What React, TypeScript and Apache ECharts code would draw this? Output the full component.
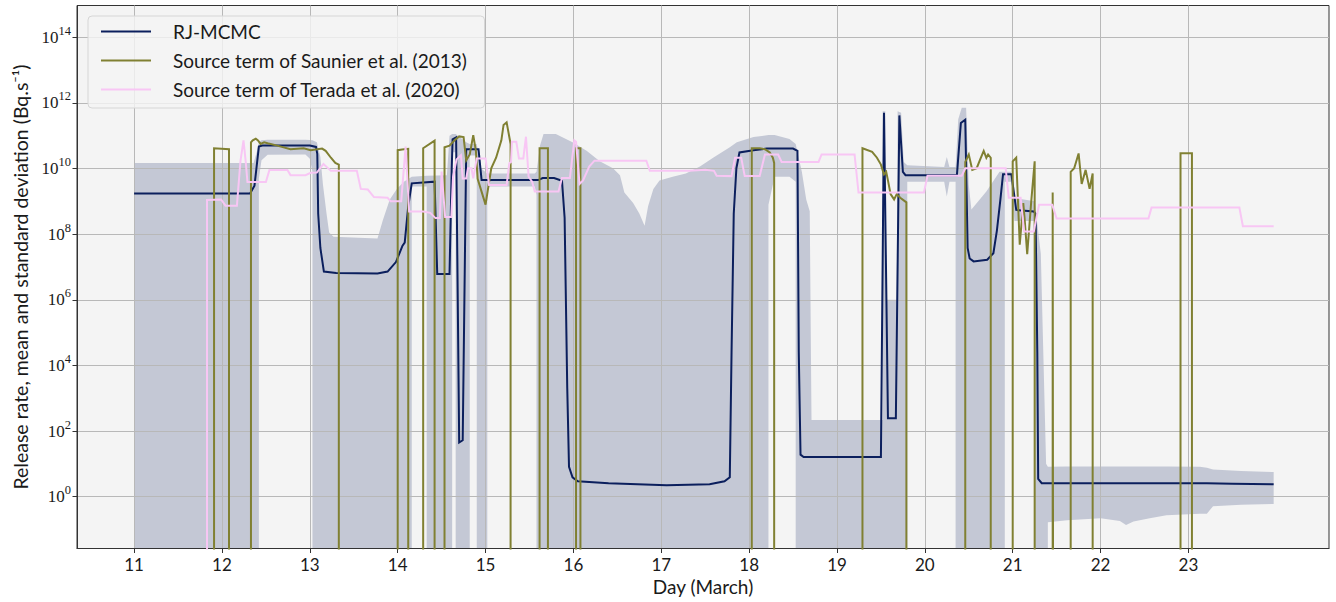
import React, { useEffect, useRef } from 'react';
import * as echarts from 'echarts';

// Axis extents (x: day of March, y: log10 of release rate)
const X_MIN = 10.35;
const X_MAX = 24.6;
const Y_MIN = -1.58;
const Y_MAX = 14.97;
const OFF = -5; // zero release (off the log axis)

const dayTicks = [11, 12, 13, 14, 15, 16, 17, 18, 19, 20, 21, 22, 23];
const decadeTicks = [0, 2, 4, 6, 8, 10, 12, 14];

const seriesNames = [
  'RJ-MCMC',
  'Source term of Saunier et al. (2013)',
  'Source term of Terada et al. (2020)',
];

// RJ-MCMC mean (log10 Bq/s)
const rjDay = [11.0, 12.32, 12.37, 12.42, 12.46, 13.0, 13.07, 13.085, 13.095, 13.12, 13.16, 13.3, 13.77, 13.885, 13.98, 14.055, 14.08, 14.12, 14.16, 14.42, 14.45, 14.59, 14.615, 14.625, 14.665, 14.7, 14.74, 14.78, 14.92, 14.955, 15.6, 15.65, 15.78, 15.87, 15.9, 15.93, 15.95, 15.99, 16.05, 16.4, 17.06, 17.55, 17.72, 17.78, 17.8, 17.825, 17.855, 17.89, 18.05, 18.2, 18.5, 18.55, 18.565, 18.585, 18.62, 19.5, 19.535, 19.58, 19.67, 19.71, 19.75, 19.78, 20.365, 20.41, 20.46, 20.487, 20.51, 20.555, 20.71, 20.78, 20.82, 20.86, 20.89, 20.985, 21.04, 21.24, 21.26, 21.28, 21.29, 21.33, 23.21, 23.5, 23.97];
const rjLog = [9.24, 9.24, 9.48, 10.67, 10.7, 10.7, 10.66, 10.45, 8.63, 7.58, 6.86, 6.82, 6.8, 6.86, 7.15, 7.65, 7.74, 8.85, 9.55, 9.6, 6.79, 6.79, 10.0, 10.89, 10.95, 1.65, 1.72, 10.59, 10.59, 9.65, 9.65, 9.71, 9.71, 9.63, 8.5, 3.3, 0.91, 0.59, 0.47, 0.41, 0.35, 0.38, 0.47, 0.59, 4.4, 8.63, 10.01, 10.49, 10.56, 10.61, 10.61, 10.54, 4.4, 1.28, 1.21, 1.21, 11.7, 2.39, 2.39, 11.62, 9.9, 9.8, 9.8, 11.39, 11.49, 7.58, 7.26, 7.17, 7.22, 7.42, 8.11, 9.06, 9.83, 9.83, 8.74, 8.69, 8.63, 4.4, 0.54, 0.41, 0.41, 0.39, 0.38];

// Saunier et al. (2013)
const saunierDay = [11.91, 11.91, 12.08, 12.08, 12.33, 12.33, 12.35, 12.385, 12.41, 12.44, 12.48, 12.52, 12.63, 12.78, 12.93, 13.01, 13.14, 13.18, 13.24, 13.29, 13.33, 13.33, 14.0, 14.0, 14.05, 14.12, 14.12, 14.29, 14.29, 14.42, 14.42, 14.533, 14.533, 14.59, 14.647, 14.7, 14.75, 14.78, 14.82, 14.86, 14.89, 14.91, 15.0, 15.065, 15.12, 15.18, 15.205, 15.24, 15.285, 15.285, 15.615, 15.615, 15.71, 15.71, 16.03, 16.03, 16.08, 16.08, 18.03, 18.03, 18.12, 18.18, 18.235, 18.27, 18.285, 18.285, 19.29, 19.29, 19.4, 19.455, 19.5, 19.535, 19.56, 19.58, 19.61, 19.65, 19.68, 19.72, 19.79, 19.79, 20.46, 20.46, 20.5, 20.54, 20.59, 20.63, 20.67, 20.7, 20.72, 20.75, 20.75, 21.0, 21.0, 21.04, 21.08, 21.12, 21.135, 21.165, 21.21, 21.25, 21.25, 21.455, 21.455, 21.46, 21.66, 21.66, 21.7, 21.75, 21.785, 21.83, 21.875, 21.91, 21.91, 22.91, 22.91, 23.04, 23.04];
const saunierLog = [OFF, 10.62, 10.59, OFF, OFF, 10.8, 10.86, 10.91, 10.86, 10.75, 10.8, 10.77, 10.7, 10.59, 10.62, 10.56, 10.61, 10.54, 10.33, 10.17, 10.12, OFF, OFF, 10.56, 10.58, 10.6, OFF, OFF, 10.62, 10.85, OFF, OFF, 10.65, 10.7, 10.86, 10.98, 10.96, 10.25, 10.43, 11.02, 10.54, 9.69, 8.9, 10.01, 10.33, 10.86, 11.33, 11.41, 10.75, OFF, OFF, 10.62, 10.62, OFF, OFF, 10.62, 10.62, OFF, OFF, 10.62, 10.62, 10.59, 10.49, 10.33, 10.17, OFF, OFF, 10.62, 10.51, 10.33, 10.12, 9.82, 9.9, 9.64, 9.22, 9.06, 9.22, 9.11, 8.97, OFF, OFF, 10.2, 10.43, 9.96, 10.01, 10.28, 10.54, 10.33, 10.43, 10.33, OFF, OFF, 10.22, 10.33, 7.68, 8.95, 8.5, 7.39, 8.97, 10.22, OFF, OFF, 9.27, OFF, OFF, 9.9, 10.01, 10.46, 9.53, 9.96, 9.38, 9.85, OFF, OFF, 10.47, 10.47, OFF];

// Terada et al. (2020)
const teradaDay = [11.83, 11.83, 11.99, 12.04, 12.17, 12.21, 12.245, 12.27, 12.29, 12.5, 12.54, 12.745, 12.78, 12.95, 13.01, 13.08, 13.155, 13.24, 13.535, 13.58, 13.66, 13.73, 13.885, 13.92, 14.04, 14.09, 14.13, 14.29, 14.37, 14.43, 14.48, 14.5, 14.54, 14.61, 14.63, 14.67, 14.72, 14.74, 14.78, 14.8, 14.84, 14.86, 14.9, 15.0, 15.04, 15.24, 15.27, 15.29, 15.3, 15.35, 15.38, 15.43, 15.46, 15.49, 15.53, 15.56, 15.83, 15.87, 15.96, 16.01, 16.03, 16.07, 16.11, 16.18, 16.24, 16.83, 16.87, 17.32, 17.5, 17.6, 17.63, 17.8, 17.84, 17.91, 17.95, 18.12, 18.18, 18.33, 18.37, 18.79, 18.825, 19.2, 19.245, 19.99, 20.03, 20.42, 20.46, 20.92, 20.955, 21.09, 21.13, 21.24, 21.3, 21.45, 21.5, 22.545, 22.58, 23.58, 23.62, 23.97];
const teradaLog = [OFF, 9.04, 9.06, 8.87, 8.87, 10.22, 10.86, 10.22, 9.59, 9.59, 9.96, 9.96, 9.8, 9.8, 9.87, 9.88, 10.14, 9.93, 9.93, 9.38, 9.36, 9.13, 9.11, 9.0, 9.0, 10.67, 8.69, 8.69, 8.65, 8.49, 8.49, 9.91, 8.52, 8.52, 9.75, 10.28, 10.41, 9.7, 9.7, 10.01, 10.01, 9.7, 10.31, 10.31, 9.5, 9.5, 10.16, 10.2, 10.82, 10.82, 10.31, 10.31, 10.97, 9.75, 9.6, 9.3, 9.3, 9.71, 9.71, 10.86, 10.82, 9.53, 9.64, 10.06, 10.24, 10.24, 9.93, 9.93, 9.96, 9.93, 9.78, 9.77, 10.33, 10.33, 9.77, 9.77, 10.43, 10.43, 10.2, 10.2, 10.43, 10.43, 9.27, 9.27, 9.78, 9.78, 10.01, 10.01, 9.11, 9.11, 8.08, 8.08, 8.9, 8.9, 8.48, 8.48, 8.81, 8.81, 8.24, 8.24];

// Mean +/- standard deviation band (log10); OFF = reaches the bottom
const bandDay = [11.0, 12.36, 12.4, 12.42, 12.42, 12.45, 12.52, 12.95, 13.0, 13.03, 13.03, 13.08, 13.12, 13.15, 13.19, 13.22, 13.27, 13.77, 13.83, 13.91, 13.99, 14.07, 14.16, 14.16, 14.33, 14.33, 14.56, 14.59, 14.62, 14.62, 14.66, 14.66, 14.78, 14.82, 14.82, 14.9, 14.9, 14.95, 15.02, 15.02, 15.56, 15.58, 15.58, 15.62, 15.66, 15.8, 15.99, 16.15, 16.3, 16.45, 16.53, 16.58, 16.68, 16.75, 16.81, 16.85, 16.91, 16.98, 17.13, 17.28, 17.44, 17.59, 17.78, 17.86, 18.05, 18.22, 18.22, 18.29, 18.46, 18.53, 18.53, 18.6, 18.65, 18.69, 18.71, 19.52, 19.52, 19.55, 19.56, 19.68, 19.69, 19.73, 19.76, 19.8, 19.8, 20.22, 20.25, 20.28, 20.35, 20.35, 20.38, 20.42, 20.47, 20.5, 20.53, 20.7, 20.85, 20.91, 20.91, 20.98, 21.02, 21.25, 21.25, 21.32, 21.38, 21.4, 21.4, 21.62, 22.0, 22.22, 22.29, 22.375, 22.56, 22.75, 23.13, 23.21, 23.28, 23.6, 23.97];
const bandUpper = [10.17, 10.17, 10.55, 10.8, 10.8, 10.86, 10.88, 10.88, 10.87, 10.86, 10.86, 10.8, 10.35, 9.5, 8.63, 8.05, 7.92, 7.87, 8.42, 9.06, 9.38, 9.6, 9.75, 9.75, 9.78, 9.78, 9.8, 11.0, 11.05, 11.05, 11.05, 11.05, 10.8, 10.75, 10.75, 10.75, 10.75, 10.0, 9.85, 9.85, 9.85, 9.9, 9.9, 10.7, 11.05, 11.05, 10.8, 10.54, 10.22, 10.01, 9.8, 9.27, 8.95, 8.63, 8.26, 8.85, 9.38, 9.64, 9.75, 9.85, 10.06, 10.33, 10.65, 10.8, 10.96, 11.02, 11.02, 11.02, 10.9, 10.75, 10.75, 9.9, 9.06, 8.7, 2.34, 2.34, 11.75, 11.75, 6.0, 6.0, 11.75, 11.7, 10.2, 10.1, 10.1, 10.05, 10.35, 10.05, 10.05, 10.05, 11.5, 11.85, 11.85, 9.5, 8.75, 9.3, 9.9, 9.9, 9.9, 9.9, 9.1, 9.0, 9.0, 7.4, 1.0, 0.91, 0.91, 0.92, 0.92, 0.92, 0.92, 0.92, 0.92, 0.92, 0.91, 0.88, 0.83, 0.78, 0.75];
const bandLower = [OFF, OFF, OFF, OFF, 9.7, 10.25, 10.42, 10.43, 10.3, 9.9, OFF, OFF, OFF, OFF, OFF, OFF, OFF, OFF, OFF, OFF, OFF, OFF, OFF, 9.45, 9.45, OFF, OFF, OFF, OFF, 10.5, 10.5, OFF, OFF, OFF, 10.4, 10.4, OFF, OFF, OFF, 9.45, 9.45, 9.2, OFF, OFF, OFF, OFF, OFF, OFF, OFF, OFF, OFF, OFF, OFF, OFF, OFF, OFF, OFF, OFF, OFF, OFF, OFF, OFF, OFF, OFF, OFF, OFF, 8.9, 9.75, 9.75, 9.6, OFF, OFF, OFF, OFF, OFF, OFF, OFF, OFF, OFF, OFF, OFF, OFF, OFF, OFF, 9.6, 9.6, 9.15, 9.6, 9.6, OFF, OFF, OFF, OFF, OFF, OFF, OFF, OFF, OFF, 9.6, 9.6, 8.4, 8.4, OFF, OFF, OFF, OFF, -0.78, -0.72, -0.66, -0.74, -0.86, -0.76, -0.66, -0.57, -0.52, -0.52, -0.29, -0.25, -0.22];

const NAVY = '#0b1f5d';
const OLIVE = '#808032';
const PINK = '#f8c6f4';
const BAND = '#c4c8d5';
const TEXT = '#1a1a1a';
const SANS = 'Lato, "DejaVu Sans", sans-serif';
const SERIF = '"Liberation Serif", "DejaVu Serif", serif';

const zip = (xs: number[], ys: number[]) => xs.map((x, i) => [x, ys[i]]);

export default function App() {
  const ref = useRef<HTMLDivElement>(null);

  useEffect(() => {
    if (!ref.current) return;
    const chart = echarts.init(ref.current, undefined, { renderer: 'svg' });
    const lineSeries = (name: string, data: number[][], color: string) => ({
      type: 'line',
      name,
      data,
      symbol: 'none',
      showSymbol: false,
      clip: true,
      lineStyle: { color, width: 2, join: 'miter' },
      itemStyle: { color },
      emphasis: { disabled: true },
      z: 3,
    });
    chart.setOption({
      animation: false,
      backgroundColor: '#ffffff',
      textStyle: { fontFamily: SANS },
      grid: {
        left: 77,
        right: 7,
        top: 5.5,
        bottom: 53.5,
        show: true,
        backgroundColor: '#f4f4f4',
        borderColor: '#333333',
        borderWidth: 1,
        z: -2,
        outerBoundsMode: 'none',
        containLabel: false,
      },
      legend: {
        data: seriesNames,
        orient: 'vertical',
        left: 88,
        top: 16,
        icon: 'rect',
        itemWidth: 50,
        itemHeight: 2,
        itemGap: 10,
        padding: [6, 17, 9, 13],
        backgroundColor: 'rgba(244,244,244,0.82)',
        borderColor: '#d6d6d6',
        borderWidth: 1,
        borderRadius: 4,
        textStyle: { fontFamily: SANS, fontSize: 19, color: TEXT, padding: [0, 0, 0, 17] },
        selectedMode: false,
      },
      xAxis: {
        type: 'value',
        min: X_MIN,
        max: X_MAX,
        name: 'Day (March)',
        nameLocation: 'middle',
        nameGap: 27,
        nameTextStyle: { fontFamily: SANS, fontSize: 19, color: TEXT },
        axisLine: { show: true, onZero: false, lineStyle: { color: '#333333', width: 1 } },
        axisTick: { show: true, customValues: dayTicks, length: 4.5, lineStyle: { color: '#333333' } },
        axisLabel: {
          customValues: dayTicks,
          margin: 7,
          fontFamily: SANS,
          fontSize: 17,
          color: TEXT,
          formatter: (v: number) => String(v),
        },
        splitLine: { show: true, lineStyle: { color: '#b8b8b8', width: 1 } },
      },
      yAxis: {
        type: 'value',
        min: Y_MIN,
        max: Y_MAX,
        name: 'Release rate, mean and standard deviation (Bq.s⁻¹)',
        nameLocation: 'middle',
        nameGap: 47,
        nameRotate: 90,
        nameTextStyle: { fontFamily: SANS, fontSize: 19.5, color: TEXT },
        axisLine: { show: true, onZero: false, lineStyle: { color: '#333333', width: 1 } },
        axisTick: { show: true, customValues: decadeTicks, length: 4.5, lineStyle: { color: '#333333' } },
        axisLabel: {
          customValues: decadeTicks,
          margin: 6,
          color: TEXT,
          formatter: (v: number) => `{b|10}{s|${v}}`,
          rich: {
            b: { fontFamily: SERIF, fontSize: 17, lineHeight: 26, color: TEXT },
            s: { fontFamily: SERIF, fontSize: 12.5, verticalAlign: 'top', lineHeight: 14, color: TEXT },
          },
        },
        splitLine: { show: true, lineStyle: { color: '#b8b8b8', width: 1 } },
      },
      series: [
        {
          type: 'custom',
          name: 'band',
          z: -1,
          silent: true,
          clip: true,
          data: [[bandDay[0], bandUpper[0]]],
          renderItem: (_params: any, api: any) => {
            const pts: number[][] = [];
            for (let i = 0; i < bandDay.length; i++) {
              pts.push(api.coord([bandDay[i], Math.max(bandUpper[i], Y_MIN)]));
            }
            for (let i = bandDay.length - 1; i >= 0; i--) {
              pts.push(api.coord([bandDay[i], Math.max(bandLower[i], Y_MIN)]));
            }
            return { type: 'polygon', shape: { points: pts }, style: { fill: BAND } };
          },
        },
        lineSeries(seriesNames[0], zip(rjDay, rjLog), NAVY),
        lineSeries(seriesNames[1], zip(saunierDay, saunierLog), OLIVE),
        lineSeries(seriesNames[2], zip(teradaDay, teradaLog), PINK),
      ],
    });
    return () => chart.dispose();
  }, []);

  return (
    <div
      ref={ref}
      style={{ position: 'fixed', left: 0, top: 0, width: 1336, height: 602, background: '#ffffff' }}
    />
  );
}
